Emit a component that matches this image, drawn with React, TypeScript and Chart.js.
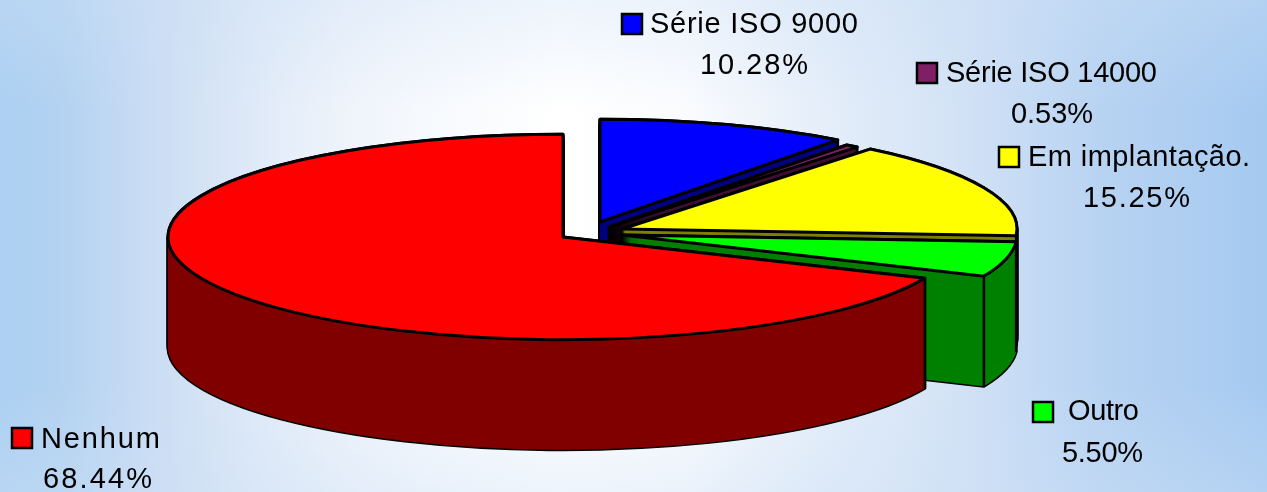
import React, { useEffect, useRef } from "react";
import { Chart, registerables } from "chart.js";

Chart.register(...registerables);

const categories = ["Série ISO 9000", "Série ISO 14000", "Em implantação.", "Outro", "Nenhum"];
const shares = [10.28, 0.53, 15.25, 5.5, 68.44];
const topColors = ["#0000ff", "#7f1f66", "#ffff00", "#00ff00", "#ff0000"];
const sideColors = ["#000080", "#401033", "#808000", "#008000", "#800000"];

// Explosion of each slice, on screen.
const shiftX = [37, 46, 59, 59, 0];
const shiftY = [-15, -10, -8, -2, 0];
const DEPTH = 110;
const SQUASH = 0.26;

// Legend layout: swatch x,y; name x,baseline,width; percent x,baseline,width
const legendLayout = [
  { sx: 622, sy: 14, nx: 650, ny: 33, nw: 208, px: 700, py: 74, pw: 108 },
  { sx: 917, sy: 63, nx: 946, ny: 82, nw: 211, px: 1011, py: 123, pw: 82 },
  { sx: 999, sy: 147, nx: 1028, ny: 166, nw: 222, px: 1083, py: 207, pw: 107 },
  { sx: 1033, sy: 402, nx: 1068, ny: 420, nw: 71, px: 1062, py: 462, pw: 81 },
  { sx: 12, sy: 428, nx: 41, ny: 448, nw: 119, px: 43, py: 488, pw: 109 },
];

function wedge(ctx: CanvasRenderingContext2D, x: number, y: number, rx: number, ry: number, a0: number, a1: number) {
  ctx.beginPath();
  ctx.moveTo(x, y);
  ctx.ellipse(x, y, rx, ry, 0, a0, a1);
  ctx.closePath();
}

function spacedText(ctx: CanvasRenderingContext2D, text: string, x: number, y: number, width: number) {
  (ctx as any).letterSpacing = "0px";
  const natural = ctx.measureText(text).width;
  const gap = (width - natural) / Math.max(text.length - 1, 1);
  (ctx as any).letterSpacing = `${gap}px`;
  ctx.fillText(text, x, y);
  (ctx as any).letterSpacing = "0px";
}

const backdrop = {
  id: "backdrop",
  beforeDraw(chart: any) {
    const { ctx, width, height } = chart;
    ctx.save();
    const g = ctx.createLinearGradient(0, 0, width, 0);
    const stops: [number, string][] = [
      [0, "#acd0f2"],
      [60, "#b3d2f1"],
      [130, "#c5daf3"],
      [180, "#d0e0f4"],
      [280, "#e4edf9"],
      [350, "#eff4fb"],
      [420, "#f6f9fd"],
      [560, "#ffffff"],
      [680, "#fbfcfe"],
      [800, "#e8f0fa"],
      [950, "#d4e3f6"],
      [1100, "#b8d3f2"],
      [1267, "#a5caf0"],
    ];
    stops.forEach(([x, c]) => g.addColorStop(x / width, c));
    ctx.fillStyle = g;
    ctx.fillRect(0, 0, width, height);
    const v = ctx.createLinearGradient(0, 0, 0, height);
    v.addColorStop(0, "rgba(205,224,246,0.35)");
    v.addColorStop(0.22, "rgba(205,224,246,0)");
    v.addColorStop(0.78, "rgba(205,224,246,0)");
    v.addColorStop(1, "rgba(205,224,246,0.35)");
    ctx.fillStyle = v;
    ctx.fillRect(0, 0, width, height);
    ctx.restore();
  },
};

const solidPie = {
  id: "solidPie",
  beforeDatasetsDraw(chart: any) {
    const { ctx } = chart;
    const arcs = chart.getDatasetMeta(0).data;
    ctx.save();
    ctx.lineJoin = "round";
    arcs.forEach((arc: any, i: number) => {
      const x = arc.x + shiftX[i];
      const y = arc.y + shiftY[i];
      const rx = arc.outerRadius;
      const ry = rx * SQUASH;
      const a0 = arc.startAngle;
      const a1 = arc.endAngle;
      // black silhouette of the prism
      ctx.strokeStyle = "#000";
      ctx.lineWidth = 3;
      for (let k = DEPTH; k >= 0; k -= 2) {
        wedge(ctx, x, y + k, rx, ry, a0, a1);
        ctx.stroke();
      }
      // body
      ctx.fillStyle = sideColors[i];
      for (let k = DEPTH; k >= 0; k -= 1) {
        wedge(ctx, x, y + k, rx, ry, a0, a1);
        ctx.fill();
      }
      // vertical corners, only those on the front half of the pie
      ctx.lineWidth = 2.5;
      [a0, a1].forEach((a) => {
        if (Math.sin(a) <= 0) return;
        const cx = x + rx * Math.cos(a);
        const cy = y + ry * Math.sin(a);
        ctx.beginPath();
        ctx.moveTo(cx, cy);
        ctx.lineTo(cx, cy + DEPTH);
        ctx.stroke();
      });
      // top face
      wedge(ctx, x, y, rx, ry, a0, a1);
      ctx.fillStyle = arc.options.backgroundColor;
      ctx.fill();
      ctx.lineWidth = 3;
      ctx.stroke();
    });
    ctx.restore();
    return false;
  },
  afterDraw(chart: any) {
    const { ctx } = chart;
    const values = chart.data.datasets[0].data;
    ctx.save();
    ctx.font = '29px "Liberation Sans"';
    ctx.textAlign = "left";
    ctx.textBaseline = "alphabetic";
    chart.data.labels.forEach((name: string, i: number) => {
      const l = legendLayout[i];
      ctx.fillStyle = topColors[i];
      ctx.strokeStyle = "#000";
      ctx.lineWidth = 2.5;
      ctx.fillRect(l.sx, l.sy, 20, 20);
      ctx.strokeRect(l.sx, l.sy, 20, 20);
      ctx.fillStyle = "#000";
      spacedText(ctx, name, l.nx, l.ny, l.nw);
      spacedText(ctx, `${values[i].toFixed(2)}%`, l.px, l.py, l.pw);
    });
    ctx.restore();
  },
};

export default function App() {
  const ref = useRef<HTMLCanvasElement>(null);
  useEffect(() => {
    document.body.style.margin = "0";
    const chart = new Chart(ref.current as HTMLCanvasElement, {
      type: "pie",
      data: {
        labels: categories,
        datasets: [{ data: shares, backgroundColor: topColors, borderWidth: 0 }],
      },
      options: {
        animation: false,
        responsive: false,
        radius: 395,
        layout: { padding: { left: 0, right: 141, top: 0, bottom: 18 } },
        plugins: { legend: { display: false }, tooltip: { enabled: false } },
      },
      plugins: [backdrop, solidPie],
    } as any);
    return () => chart.destroy();
  }, []);
  return <canvas ref={ref} width={1267} height={492} style={{ display: "block" }} />;
}
